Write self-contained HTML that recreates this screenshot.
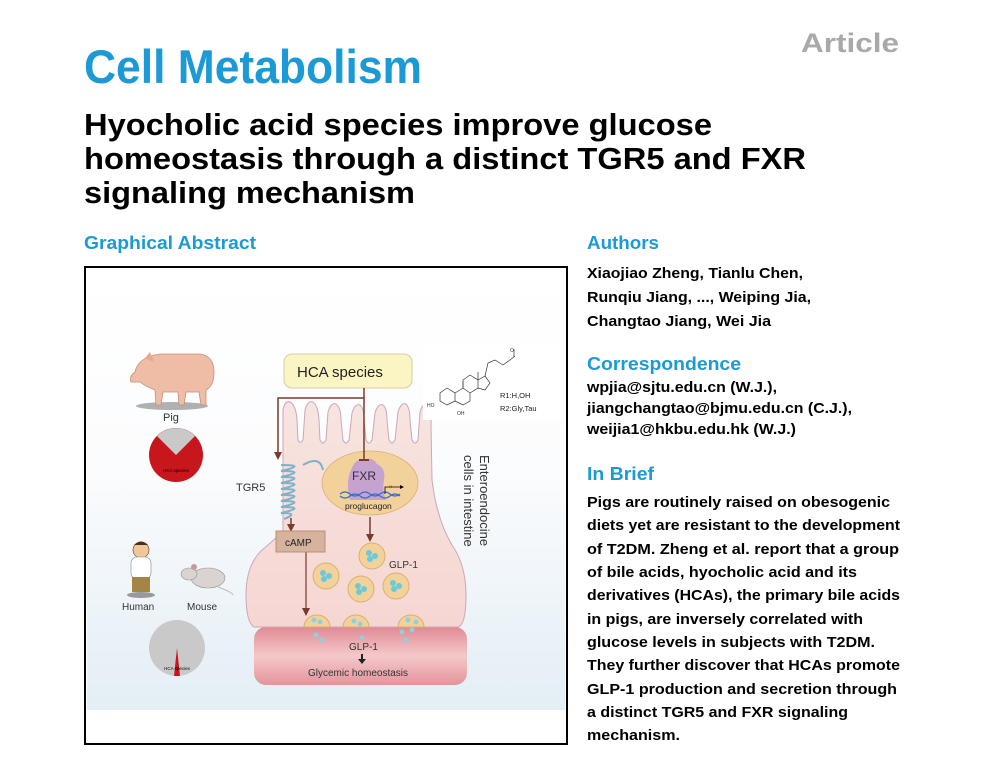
<!DOCTYPE html>
<html><head><meta charset="utf-8"><style>
html,body{margin:0;padding:0;background:#fff;}
svg{display:block;font-family:"Liberation Sans",Arial,sans-serif;}
</style></head><body>
<svg width="999" height="763" viewBox="0 0 999 763" xmlns="http://www.w3.org/2000/svg">
<defs>
<linearGradient id="bg" x1="0" y1="0" x2="0" y2="1">
<stop offset="0" stop-color="#ffffff"/><stop offset="0.45" stop-color="#fbfcfd"/><stop offset="1" stop-color="#e3eef5"/>
</linearGradient>
<linearGradient id="cell" x1="0" y1="0" x2="0" y2="1">
<stop offset="0" stop-color="#f7e4e0"/><stop offset="1" stop-color="#f6d6d2"/>
</linearGradient>
<linearGradient id="vessel" x1="0" y1="0" x2="0" y2="1">
<stop offset="0" stop-color="#e08a93"/><stop offset="0.5" stop-color="#f4c9cc"/><stop offset="1" stop-color="#e4939a"/>
</linearGradient>
<marker id="ar" markerWidth="8" markerHeight="8" refX="6" refY="4" orient="auto" markerUnits="userSpaceOnUse"><path d="M0,0 L8,4 L0,8 z" fill="#7a3a2c"/></marker>
</defs>

<text x="801" y="52" font-size="27" font-weight="bold" fill="#a7a9ab" textLength="98" lengthAdjust="spacingAndGlyphs">Article</text>
<text x="84" y="83" font-size="47" font-weight="bold" fill="#1b9ad6" textLength="338" lengthAdjust="spacingAndGlyphs">Cell Metabolism</text>
<text x="84" y="135" font-size="31" font-weight="bold" fill="#000" textLength="628" lengthAdjust="spacingAndGlyphs">Hyocholic acid species improve glucose</text>
<text x="84" y="169" font-size="31" font-weight="bold" fill="#000" textLength="722" lengthAdjust="spacingAndGlyphs">homeostasis through a distinct TGR5 and FXR</text>
<text x="84" y="203" font-size="31" font-weight="bold" fill="#000" textLength="331" lengthAdjust="spacingAndGlyphs">signaling mechanism</text>

<text x="84" y="249" font-size="18" font-weight="bold" fill="#1b9ad6" textLength="172" lengthAdjust="spacingAndGlyphs">Graphical Abstract</text>

<g fill="#000" font-size="15" font-weight="bold">
<text x="587" y="249" font-size="18" fill="#1b9ad6" textLength="72" lengthAdjust="spacingAndGlyphs">Authors</text>
<text x="587" y="278" textLength="216" lengthAdjust="spacingAndGlyphs">Xiaojiao Zheng, Tianlu Chen,</text>
<text x="587" y="302" textLength="224" lengthAdjust="spacingAndGlyphs">Runqiu Jiang, ..., Weiping Jia,</text>
<text x="587" y="326" textLength="184" lengthAdjust="spacingAndGlyphs">Changtao Jiang, Wei Jia</text>
<text x="587" y="370" font-size="18" fill="#1b9ad6" textLength="154" lengthAdjust="spacingAndGlyphs">Correspondence</text>
<text x="587" y="392" textLength="190" lengthAdjust="spacingAndGlyphs">wpjia@sjtu.edu.cn (W.J.),</text>
<text x="587" y="413" textLength="265" lengthAdjust="spacingAndGlyphs">jiangchangtao@bjmu.edu.cn (C.J.),</text>
<text x="587" y="434" textLength="209" lengthAdjust="spacingAndGlyphs">weijia1@hkbu.edu.hk (W.J.)</text>
<text x="587" y="480" font-size="18" fill="#1b9ad6" textLength="67" lengthAdjust="spacingAndGlyphs">In Brief</text>
<text x="587" y="507" textLength="303" lengthAdjust="spacingAndGlyphs">Pigs are routinely raised on obesogenic</text>
<text x="587" y="530" textLength="313" lengthAdjust="spacingAndGlyphs">diets yet are resistant to the development</text>
<text x="587" y="554" textLength="312" lengthAdjust="spacingAndGlyphs">of T2DM. Zheng et al. report that a group</text>
<text x="587" y="577" textLength="270" lengthAdjust="spacingAndGlyphs">of bile acids, hyocholic acid and its</text>
<text x="587" y="600" textLength="313" lengthAdjust="spacingAndGlyphs">derivatives (HCAs), the primary bile acids</text>
<text x="587" y="624" textLength="276" lengthAdjust="spacingAndGlyphs">in pigs, are inversely correlated with</text>
<text x="587" y="647" textLength="288" lengthAdjust="spacingAndGlyphs">glucose levels in subjects with T2DM.</text>
<text x="587" y="670" textLength="313" lengthAdjust="spacingAndGlyphs">They further discover that HCAs promote</text>
<text x="587" y="694" textLength="310" lengthAdjust="spacingAndGlyphs">GLP-1 production and secretion through</text>
<text x="587" y="717" textLength="261" lengthAdjust="spacingAndGlyphs">a distinct TGR5 and FXR signaling</text>
<text x="587" y="740" textLength="93" lengthAdjust="spacingAndGlyphs">mechanism.</text>
</g>

<rect x="85" y="267" width="482" height="477" fill="#fff" stroke="#000" stroke-width="2"/>
<rect x="87" y="269" width="478" height="441" fill="url(#bg)"/>

<ellipse cx="172" cy="406" rx="36" ry="4" fill="#b0b0b0"/>
<path d="M135,372 Q138,357 160,354 L200,354 Q214,356 214,372 Q214,386 206,390 L206,405 L201,405 L199,392 L186,392 L184,405 L179,405 L178,392 L163,392 L161,405 L156,405 L155,390 Q145,386 140,382 L131,382 Q129,376 135,372 z" fill="#efbca6" stroke="#c98c78" stroke-width="0.8"/>
<path d="M145,358 L150,352 L154,362 z" fill="#e6a890"/>
<text x="163" y="421" font-size="11" fill="#333">Pig</text>
<circle cx="176" cy="455" r="27" fill="#c8161d"/>
<path d="M176,455 L157,436 A27,27 0 0 1 195,436 z" fill="#c9c9c9"/>
<text x="176" y="472" font-size="4.5" fill="#000" text-anchor="middle">HCA species</text>

<ellipse cx="141" cy="595" rx="14" ry="3" fill="#999"/>
<circle cx="141" cy="550" r="8" fill="#f0c79c" stroke="#5a3a20" stroke-width="0.6"/>
<path d="M134,545 Q141,538 148,545 z" fill="#4a2f1c"/>
<rect x="131" y="557" width="20" height="22" rx="6" fill="#fff" stroke="#888" stroke-width="0.6"/>
<rect x="132" y="577" width="18" height="15" fill="#a48545"/>
<text x="122" y="610" font-size="10" fill="#333">Human</text>
<ellipse cx="208" cy="578" rx="17" ry="10" fill="#d9d3d2" stroke="#9b8f8f" stroke-width="0.6"/>
<ellipse cx="189" cy="574" rx="8" ry="6" fill="#d9d3d2" stroke="#9b8f8f" stroke-width="0.6"/>
<circle cx="194" cy="567" r="3" fill="#c49a9a"/>
<path d="M218,587 Q232,592 233,595" stroke="#bbb" fill="none"/>
<text x="187" y="610" font-size="10" fill="#333">Mouse</text>
<circle cx="177" cy="648" r="28" fill="#c9c9c9"/>
<path d="M177,648 L174,676 L180,676 z" fill="#c8161d"/>
<text x="177" y="670" font-size="4.5" fill="#000" text-anchor="middle">HCA species</text>

<rect x="254" y="627" width="213" height="58" rx="12" fill="url(#vessel)"/>

<path d="M283,530 L283,410 Q285,400 290,402 Q296,405 297,420 L298,440 Q300,445 303,440 L305,410 Q308,400 313,402 Q318,405 319,420 L320,440 Q323,446 326,440 L328,412 Q331,402 336,404 Q341,408 341,420 L343,440 Q346,446 349,440 L352,413 Q355,403 360,405 Q364,408 364,420 L366,440 Q369,446 372,440 L375,413 Q378,403 383,405 Q387,408 387,420 L389,440 Q392,446 395,440 L398,412 Q401,402 406,404 Q410,408 410,420 L412,440 Q415,446 418,440 L420,412 Q423,402 428,404 Q432,408 431,425 L432,480 Q437,520 452,545 Q466,565 466,595 Q466,625 458,627 L254,627 Q246,622 246,595 Q246,565 262,550 Q280,535 283,530 z" fill="url(#cell)" stroke="#c9a8b8" stroke-width="1"/>

<ellipse cx="370" cy="483" rx="48" ry="32" fill="#f2d29a" stroke="#d8b070" stroke-width="0.8"/>
<path d="M350,500 Q345,480 352,468 Q356,458 364,460 Q372,456 377,464 Q386,468 384,480 Q382,490 386,500 z" fill="#c6a2cf"/>
<text x="352" y="480" font-size="12" fill="#3a2a40">FXR</text>
<path d="M340,494 Q345,490 350,494 T360,494 T370,494 T380,494 T390,494 T400,494" stroke="#3b6ec9" fill="none" stroke-width="1.2"/>
<path d="M340,496 Q345,500 350,496 T360,496 T370,496 T380,496 T390,496 T400,496" stroke="#3b6ec9" fill="none" stroke-width="1.2"/>
<path d="M385,494 L385,487 L402,487" stroke="#000" fill="none" stroke-width="0.8"/>
<path d="M400,485 L404,487 L400,489 z" fill="#000"/>
<text x="389" y="489" font-size="6" fill="#d0201e">×</text>
<text x="345" y="509" font-size="8.5" fill="#222">proglucagon</text>

<path d="M281,465 Q308,465 281,471 Q308,471 281,477 Q308,477 281,483 Q308,483 281,489 Q308,489 281,495 Q308,495 281,501 Q308,501 281,507 Q308,507 281,513 Q300,513 284,519 M303,465 Q320,455 323,470" stroke="#7fb1c8" stroke-width="2" fill="none"/>
<text x="236" y="491" font-size="11" fill="#333">TGR5</text>

<rect x="284" y="354" width="128" height="34" rx="8" fill="#fbf5c4" stroke="#d9cfa0"/>
<text x="297" y="377" font-size="15" fill="#222">HCA species</text>

<path d="M364,388 L364,398 L278,398 L278,458" stroke="#7a3a2c" stroke-width="1.5" fill="none" marker-end="url(#ar)"/>
<path d="M364,398 L364,460" stroke="#7a3a2c" stroke-width="1.5" fill="none"/>
<path d="M359,460 L369,460" stroke="#7a3a2c" stroke-width="2"/>
<path d="M291,518 L291,530" stroke="#7a3a2c" stroke-width="1.5" marker-end="url(#ar)"/>
<path d="M306,552 L306,614" stroke="#7a3a2c" stroke-width="1.2" marker-end="url(#ar)"/>
<path d="M370,517 L370,540" stroke="#7a3a2c" stroke-width="1.5" marker-end="url(#ar)"/>

<rect x="276" y="531" width="49" height="21" fill="#d6b39c" stroke="#b8907a"/>
<text x="285" y="546" font-size="10" fill="#222">cAMP</text>

<g fill="#f2d29a" stroke="#d8b070">
<circle cx="372" cy="556" r="13"/><circle cx="326" cy="576" r="13"/><circle cx="361" cy="589" r="13"/><circle cx="396" cy="586" r="13"/>
</g>
<g fill="#6ccad8">
<circle cx="369" cy="553" r="3"/><circle cx="375" cy="556" r="3"/><circle cx="370" cy="559" r="3"/>
<circle cx="323" cy="573" r="3"/><circle cx="329" cy="576" r="3"/><circle cx="324" cy="579" r="3"/>
<circle cx="358" cy="586" r="3"/><circle cx="364" cy="589" r="3"/><circle cx="359" cy="592" r="3"/>
<circle cx="393" cy="583" r="3"/><circle cx="399" cy="586" r="3"/><circle cx="394" cy="589" r="3"/>
</g>
<text x="389" y="568" font-size="10" fill="#333">GLP-1</text>
<g fill="#f2d29a" stroke="#d8b070">
<path d="M304,627 A13,12 0 0 1 330,627 z"/><path d="M343,627 A13,12 0 0 1 369,627 z"/><path d="M398,627 A13,12 0 0 1 424,627 z"/>
</g>
<g fill="#8fd0dc">
<circle cx="314" cy="620" r="2.5"/><circle cx="320" cy="622" r="2.5"/><circle cx="316" cy="635" r="2.5"/><circle cx="322" cy="640" r="2.5"/>
<circle cx="354" cy="621" r="2.5"/><circle cx="360" cy="624" r="2.5"/><circle cx="362" cy="638" r="2.5"/>
<circle cx="408" cy="620" r="2.5"/><circle cx="416" cy="622" r="2.5"/><circle cx="402" cy="632" r="2.5"/><circle cx="412" cy="630" r="2.5"/><circle cx="406" cy="640" r="2.5"/>
</g>
<text x="349" y="650" font-size="10" fill="#333">GLP-1</text>
<path d="M362,654 L362,660" stroke="#222" stroke-width="2"/>
<path d="M358,659 L366,659 L362,664 z" fill="#222"/>
<text x="308" y="676" font-size="10" fill="#333">Glycemic homeostasis</text>

<text transform="translate(480,455) rotate(90)" font-size="13" fill="#333">Enteroendocine</text>
<text transform="translate(464,455) rotate(90)" font-size="13" fill="#333">cells in intestine</text>

<rect x="423" y="345" width="140" height="75" fill="#fff"/>
<g stroke="#333" stroke-width="0.7" fill="none">
<path d="M440,393 L447,388 L455,393 L455,401 L447,405 L440,401 z"/>
<path d="M455,393 L463,388 L470,393 L470,401 L463,405 L455,401"/>
<path d="M463,388 L463,380 L470,375 L478,380 L478,388 L470,393"/>
<path d="M478,380 L485,376 L490,383 L485,390 L478,388"/>
<path d="M485,376 L488,363 L495,360 L503,365 L510,360"/>
<path d="M463,388 L463,381"/><path d="M478,380 L478,372"/>
<path d="M510,360 L515,356"/><path d="M514,349 L514,357"/>
</g>
<text x="427" y="407" font-size="5" fill="#333">HO</text>
<text x="457" y="415" font-size="5" fill="#333">OH</text>
<text x="510" y="352" font-size="5" fill="#333">O</text>
<text x="500" y="398" font-size="7.5" fill="#222">R1:H,OH</text>
<text x="500" y="411" font-size="7.5" fill="#222">R2:Gly,Tau</text>
</svg>
</body></html>
